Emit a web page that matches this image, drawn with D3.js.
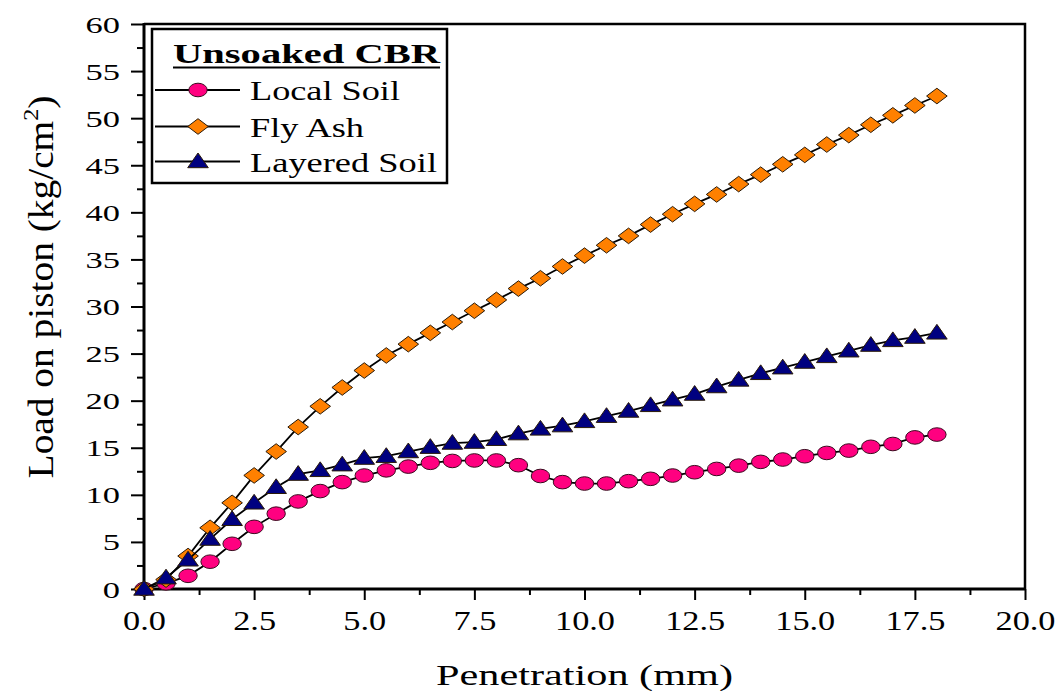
<!DOCTYPE html>
<html>
<head>
<meta charset="utf-8">
<script src="https://cdn.jsdelivr.net/npm/d3@7"></script>
<style>
    body { margin: 0; background: #fff; }
    svg { display: block; }
    svg text { font-family: "Liberation Serif", "Times New Roman", Times, serif; }
</style>
</head>
<body>
<svg id="chart" width="1063" height="691"></svg>
<script>
// Unsoaked CBR test readings
var penetration = [0, 0.5, 1, 1.5, 2, 2.5, 3, 3.5, 4, 4.5, 5, 5.5, 6, 6.5, 7, 7.5, 8, 8.5, 9,
    9.5, 10, 10.5, 11, 11.5, 12, 12.5, 13, 13.5, 14, 14.5, 15, 15.5, 16, 16.5, 17, 17.5, 18];
var localSoil = [0, 0.6, 1.4, 2.9, 4.8, 6.6, 8.0, 9.3, 10.4, 11.35, 12.05, 12.6, 13.0, 13.4, 13.6,
    13.65, 13.65, 13.15, 12.0, 11.35, 11.2, 11.2, 11.45, 11.7, 12.05, 12.4, 12.75, 13.1, 13.5,
    13.75, 14.1, 14.45, 14.7, 15.1, 15.4, 16.1, 16.4];
var flyAsh = [0, 1.0, 3.5, 6.5, 9.15, 12.06, 14.6, 17.2, 19.4, 21.4, 23.2, 24.8, 26.0, 27.2, 28.35,
    29.55, 30.7, 31.9, 33.0, 34.25, 35.4, 36.5, 37.5, 38.7, 39.8, 40.9, 41.9, 43.0, 44.0, 45.1,
    46.1, 47.2, 48.2, 49.3, 50.3, 51.35, 52.35];
var layeredSoil = [0, 1.2, 3.1, 5.3, 7.4, 9.15, 10.8, 12.2, 12.6, 13.2, 13.9, 14.1, 14.6, 15.06,
    15.5, 15.6, 15.9, 16.5, 17.0, 17.35, 17.8, 18.35, 18.9, 19.5, 20.1, 20.7, 21.5, 22.2, 22.9,
    23.5, 24.1, 24.7, 25.3, 25.9, 26.4, 26.75, 27.2];

var seriesNames = ["Local Soil", "Fly Ash", "Layered Soil"];
var xTicks = [0, 2.5, 5, 7.5, 10, 12.5, 15, 17.5, 20];
var yTicks = [0, 5, 10, 15, 20, 25, 30, 35, 40, 45, 50, 55, 60];

var svg = d3.select("#chart");
var margin = {top: 24, right: 38, bottom: 102, left: 144};
var width = 1063 - margin.left - margin.right;
var height = 691 - margin.top - margin.bottom;

var x = d3.scaleLinear().domain([0, 20]).range([margin.left, margin.left + width]);
var y = d3.scaleLinear().domain([0, 60]).range([margin.top + height, margin.top]);

// marker shapes, one per series
var styles = [
    {shape: "circle", fill: "#ff0080"},
    {shape: "diamond", fill: "#ff8000"},
    {shape: "triangle", fill: "#000080"}
];

function markerPath(shape) {
    if (shape === "diamond") {
        return "M0,-7.8L10.3,0L0,7.8L-10.3,0Z";
    }
    if (shape === "triangle") {
        return "M0,-8.5L10.3,6.2L-10.3,6.2Z";
    }
    return null;
}

function drawMarker(g, shape, fill, cx, cy) {
    if (shape === "circle") {
        g.append("ellipse")
            .attr("cx", cx).attr("cy", cy)
            .attr("rx", 9.2).attr("ry", 6.8)
            .attr("fill", fill)
            .attr("stroke", "#3a0a1e").attr("stroke-width", 1);
    } else {
        g.append("path")
            .attr("d", markerPath(shape))
            .attr("transform", "translate(" + cx + "," + cy + ")")
            .attr("fill", fill)
            .attr("stroke", "#2a1a08").attr("stroke-width", 1);
    }
}

// minor ticks sit halfway between labelled ticks
var xMinor = d3.pairs(xTicks).map(function (p) { return (p[0] + p[1]) / 2; });
var yMinor = d3.pairs(yTicks).map(function (p) { return (p[0] + p[1]) / 2; });

var gx = svg.append("g").attr("transform", "translate(0," + (margin.top + height) + ")");
gx.call(d3.axisBottom(x).tickValues(xTicks).tickSize(11).tickFormat(d3.format(".1f")));
gx.call(function (g) {
    g.attr("font-family", null);
    g.select(".domain").remove();
    g.selectAll(".tick line").attr("stroke", "#000").attr("stroke-width", 2);
    g.selectAll(".tick text")
        .attr("y", 41).attr("dy", 0)
        .attr("font-size", 27)
        .attr("fill", "#000")
        .attr("transform", "scale(1.27,1)");
});
var gxm = svg.append("g").attr("transform", "translate(0," + (margin.top + height) + ")");
gxm.call(d3.axisBottom(x).tickValues(xMinor).tickSize(6).tickFormat(""));
gxm.select(".domain").remove();
gxm.selectAll(".tick line").attr("stroke", "#000").attr("stroke-width", 2);

var gy = svg.append("g").attr("transform", "translate(" + margin.left + ",0)");
gy.call(d3.axisLeft(y).tickValues(yTicks).tickSize(13));
gy.call(function (g) {
    g.attr("font-family", null);
    g.select(".domain").remove();
    g.selectAll(".tick line").attr("stroke", "#000").attr("stroke-width", 2);
    g.selectAll(".tick text")
        .attr("x", -16).attr("dy", 8)
        .attr("font-size", 23)
        .attr("fill", "#000")
        .attr("transform", "scale(1.5,1)");
});
var gym = svg.append("g").attr("transform", "translate(" + margin.left + ",0)");
gym.call(d3.axisLeft(y).tickValues(yMinor).tickSize(7).tickFormat(""));
gym.select(".domain").remove();
gym.selectAll(".tick line").attr("stroke", "#000").attr("stroke-width", 2);

// plot frame
svg.append("path")
    .attr("d", "M" + margin.left + "," + margin.top + "H" + (margin.left + width) + "V" + (margin.top + height))
    .attr("fill", "none").attr("stroke", "#000").attr("stroke-width", 2.5);
svg.append("path")
    .attr("d", "M" + margin.left + "," + (margin.top - 1) + "V" + (margin.top + height) + "H" + (margin.left + width + 1))
    .attr("fill", "none").attr("stroke", "#000").attr("stroke-width", 3);

// series: line first, then its symbols
var allSeries = [localSoil, flyAsh, layeredSoil];
var line = d3.line()
    .x(function (d) { return x(d[0]); })
    .y(function (d) { return y(d[1]); });

allSeries.forEach(function (values, i) {
    var pts = penetration.map(function (p, j) { return [p, values[j]]; });
    var g = svg.append("g").attr("class", "series");
    g.append("path")
        .datum(pts)
        .attr("d", line)
        .attr("fill", "none")
        .attr("stroke", "#000")
        .attr("stroke-width", 1.8);
    pts.forEach(function (p) {
        drawMarker(g, styles[i].shape, styles[i].fill, x(p[0]), y(p[1]));
    });
});

// legend
var legend = svg.append("g");
legend.append("rect")
    .attr("x", 152).attr("y", 29)
    .attr("width", 295).attr("height", 154)
    .attr("fill", "#fff").attr("stroke", "#000").attr("stroke-width", 2.5);
legend.append("text")
    .attr("x", 173).attr("y", 62.5)
    .attr("font-size", 28).attr("font-weight", "bold")
    .attr("textLength", 267).attr("lengthAdjust", "spacingAndGlyphs")
    .text("Unsoaked CBR");
legend.append("line")
    .attr("x1", 173).attr("x2", 440)
    .attr("y1", 67.5).attr("y2", 67.5)
    .attr("stroke", "#000").attr("stroke-width", 2);

var legendRowY = [90, 126.5, 161.5];
var legendTextLen = [150, 114, 187];
seriesNames.forEach(function (name, i) {
    var cy = legendRowY[i];
    legend.append("line")
        .attr("x1", 155).attr("x2", 240)
        .attr("y1", cy).attr("y2", cy)
        .attr("stroke", "#000").attr("stroke-width", 1.8);
    drawMarker(legend, styles[i].shape, styles[i].fill, 198, cy);
    legend.append("text")
        .attr("x", 250).attr("y", cy + 10)
        .attr("font-size", 28)
        .attr("textLength", legendTextLen[i]).attr("lengthAdjust", "spacingAndGlyphs")
        .text(name);
});

// axis titles
svg.append("text")
    .attr("x", margin.left + width / 2).attr("y", 685)
    .attr("text-anchor", "middle")
    .attr("font-size", 30)
    .attr("textLength", 297).attr("lengthAdjust", "spacingAndGlyphs")
    .text("Penetration (mm)");

var yTitle = svg.append("text")
    .attr("text-anchor", "middle")
    .attr("font-size", 36);
yTitle.append("tspan").text("Load on piston (kg/cm");
yTitle.append("tspan").attr("dy", -15).attr("font-size", 22).text("2");
yTitle.append("tspan").attr("dy", 15).text(")");
var natural = yTitle.node().getBBox().width;
yTitle.attr("transform", "translate(53,287) rotate(-90) scale(" + (383 / natural) + ",1)");
</script>
</body>
</html>
